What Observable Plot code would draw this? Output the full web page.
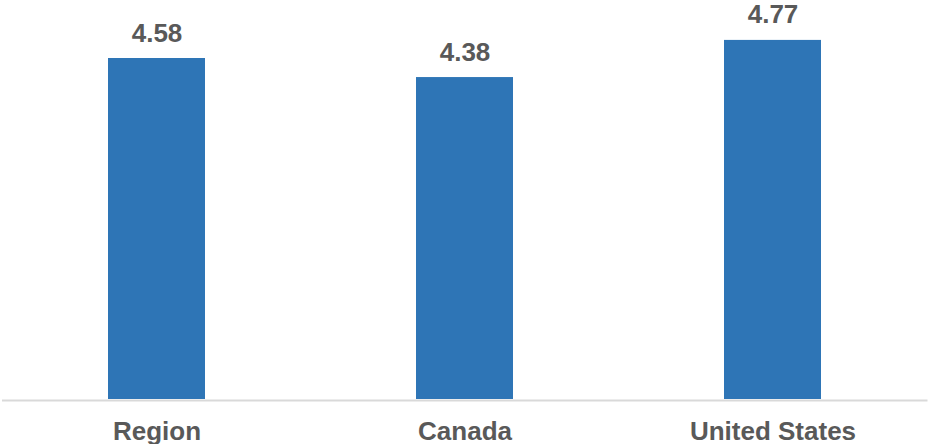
<!DOCTYPE html>
<html>
<head>
<meta charset="utf-8">
<script src="https://cdn.jsdelivr.net/npm/d3@7"></script>
<script src="https://cdn.jsdelivr.net/npm/@observablehq/plot@0.6"></script>
<style>
  html, body { margin: 0; padding: 0; background: #fff; }
  #chart svg { display: block; }
</style>
</head>
<body>
<div id="chart"></div>
<script>
const categories = ["Region", "Canada", "United States"];
const values = [4.58, 4.38, 4.77];
const valueLabels = ["4.58", "4.38", "4.77"];

const data = categories.map((c, i) => ({category: c, value: values[i], label: valueLabels[i]}));

const font = "'Liberation Sans', Arial, sans-serif";
const textColor = "#595959";

const chart = Plot.plot({
  width: 929,
  height: 444,
  marginTop: 18,
  marginBottom: 45,
  marginLeft: 2,
  marginRight: 1.5,
  style: {fontFamily: font, background: "#fff"},
  x: {domain: categories, paddingInner: 0.6856, paddingOuter: 0.3428, label: null},
  y: {domain: [1, 5], axis: null},
  marks: [
    Plot.barY(data, {x: "category", y1: 1, y2: "value", fill: "#2e75b6"}),
    Plot.ruleY([1], {stroke: "#d9d9d9", strokeWidth: 2, dy: 1}),
    Plot.text(data, {x: "category", y: "value", text: "label", lineAnchor: "bottom", dy: -17,
      fontSize: 26, fontWeight: "bold", fill: textColor}),
    Plot.axisX({tickSize: 0, tickPadding: 22, fontSize: 26, fontWeight: "bold", color: textColor, label: null})
  ]
});
document.getElementById("chart").appendChild(chart);
</script>
</body>
</html>
